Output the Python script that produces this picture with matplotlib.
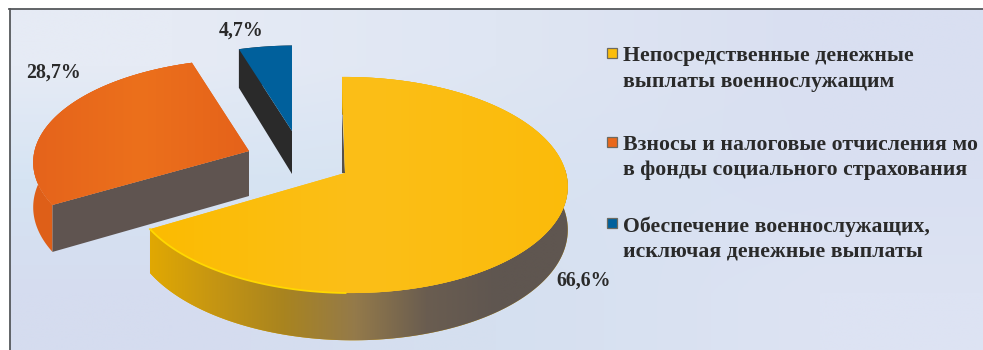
import numpy as np
import matplotlib
matplotlib.use("Agg")
import matplotlib.pyplot as plt
from matplotlib.colors import LinearSegmentedColormap, to_rgb
from matplotlib.patches import Polygon, Rectangle

shares = [66.6, 28.7, 4.7]
share_labels = ["66,6%", "28,7%", "4,7%"]
legend_lines = [
    ["Непосредственные денежные", "выплаты военнослужащим"],
    ["Взносы и налоговые отчисления мо", "в фонды социального страхования"],
    ["Обеспечение военнослужащих,", "исключая денежные выплаты"],
]

TOP_COLORS = ["#fbbd0b", "#e9681b", "#00609c"]
RADIAL_WALL = ["#55504a", "#5f5450", "#2a2a2a"]
ARC_WALL = ["#e0a800", "#de5f18", "#2a2a2a"]
BACKGROUND = [
    ["#e6ebf5", "#dfe6f3", "#d9dff1"],
    ["#d6e4f3", "#d8e3f2", "#d9e0f2"],
    ["#d5dcef", "#d5e0f0", "#dde3f3"],
]

# slice apex on the canvas, x/y scale, lean and wall height for each slice
APEX = [(345, 173), (249, 151), (292, 131)]
X_SCALE = [1.0, 1.0, 0.93]
Y_SCALE = [1.0, 0.96, 0.89]
LEAN = [3, 0, 0]
DEPTH = [42, 45, 43]

RX, RY = 217.7, 106.7
TILT, SIDE = 0.111, 0.015

LABEL_XY = [(556, 286), (26, 78), (219, 36)]
LEGEND_MARK_Y = [48, 137, 218]
LEGEND_BASELINES = [(61, 87), (150, 175), (232, 257)]


def project(t, i):
    """Tilted disc with a little perspective, t in degrees."""
    u, v = np.cos(np.radians(t)), np.sin(np.radians(t))
    s = 1 / (1 + TILT * v - SIDE * u)
    x = APEX[i][0] + RX * X_SCALE[i] * u * s - LEAN[i] * v
    y = APEX[i][1] - RY * Y_SCALE[i] * v * s
    return x, y, s


def gradient(ax, clip, extent, colors, zorder):
    cmap = LinearSegmentedColormap.from_list("g", colors)
    im = ax.imshow(np.linspace(0, 1, 256)[None, :], cmap=cmap, extent=extent,
                   aspect="auto", zorder=zorder, interpolation="bilinear")
    im.set_clip_path(clip)


fig = plt.figure(figsize=(9.83, 3.5), dpi=100, facecolor="white")
ax = fig.add_axes([0, 0, 1, 1])

# panel background: soft blue wash
wash = np.array([[to_rgb(c) for c in row] for row in BACKGROUND])
ax.imshow(wash, extent=(10, 983, 350, 9), aspect="auto", interpolation="bilinear", zorder=0)
ax.plot([9.5, 9.5], [350, 9], color="#55585c", lw=1.3, zorder=1)
ax.plot([9, 983], [9, 9], color="#55585c", lw=1.3, zorder=1)

ax.set_xlim(0, 983)
ax.set_ylim(350, 0)
ax.axis("off")

# slices run clockwise from twelve o'clock
starts = 90 - np.cumsum([0] + shares[:-1]) * 3.6
sweeps = np.array(shares) * 3.6

for i in [1, 2, 0]:
    t = np.linspace(starts[i], starts[i] - sweeps[i], 240)
    x, y, s = project(t, i)
    ax0, ay0 = APEX[i]
    d = DEPTH[i]
    z = 10 if i == 0 else 5

    # outer wall
    wall = Polygon(np.r_[np.c_[x, y], np.c_[x, y + d * s][::-1]], closed=True,
                   fc=ARC_WALL[i], ec="none", zorder=z)
    ax.add_patch(wall)
    if i == 0:
        gradient(ax, wall, (140, 570, 345, 170),
                 ["#e5ab00", "#c69612", "#a9841f", "#947a4a", "#6a5d50", "#5f5650", "#5f5650"],
                 z + 0.1)

    # cut faces: the big slice only shows a sliver behind its upper edge
    if i == 0:
        cut = [(x[0], y[0] + 30), (ax0, ay0), (ax0 - 3, ay0)]
    else:
        cut = [(x[0], y[0]), (ax0, ay0), (ax0, ay0 + d), (x[0], y[0] + d * s[0])]
    ax.add_patch(Polygon(cut, fc=RADIAL_WALL[i], ec="none", zorder=z + 0.2))

    # top face
    top = Polygon(np.r_[np.c_[x, y], [[ax0, ay0]]], closed=True, fc=TOP_COLORS[i], ec="none",
                  zorder=z + 0.3)
    ax.add_patch(top)
    if i == 0:
        gradient(ax, top, (140, 570, 300, 70), ["#fbbb00", "#fcbf18", "#fbbb0a"], z + 0.35)
        ax.plot(x[t < -90], y[t < -90], color="#ffd800", lw=1.3, zorder=z + 0.4)
    elif i == 1:
        gradient(ax, top, (30, 250, 210, 60), ["#e5631b", "#ec701c", "#e5621a"], z + 0.35)
        ax.plot(x[t > 170], y[t > 170], color="#f98a20", lw=1.0, zorder=z + 0.4)

for txt, (lx, ly) in zip(share_labels, LABEL_XY):
    ax.text(lx, ly, txt, family="Liberation Serif", fontweight="bold", fontsize=14.3,
            color="#2a2a2a", ha="left", va="baseline", zorder=20)

for i, lines in enumerate(legend_lines):
    ax.add_patch(Rectangle((607, LEGEND_MARK_Y[i]), 10, 10, fc=TOP_COLORS[i], ec="#6d6a60", lw=0.9, zorder=20))
    for txt, base in zip(lines, LEGEND_BASELINES[i]):
        ax.text(623, base, txt, family="Liberation Serif", fontweight="bold", fontsize=15.7,
                color="#2a2a2a", ha="left", va="baseline", zorder=20)

fig.savefig("out.png", dpi=100, facecolor="white")
plt.close(fig)
